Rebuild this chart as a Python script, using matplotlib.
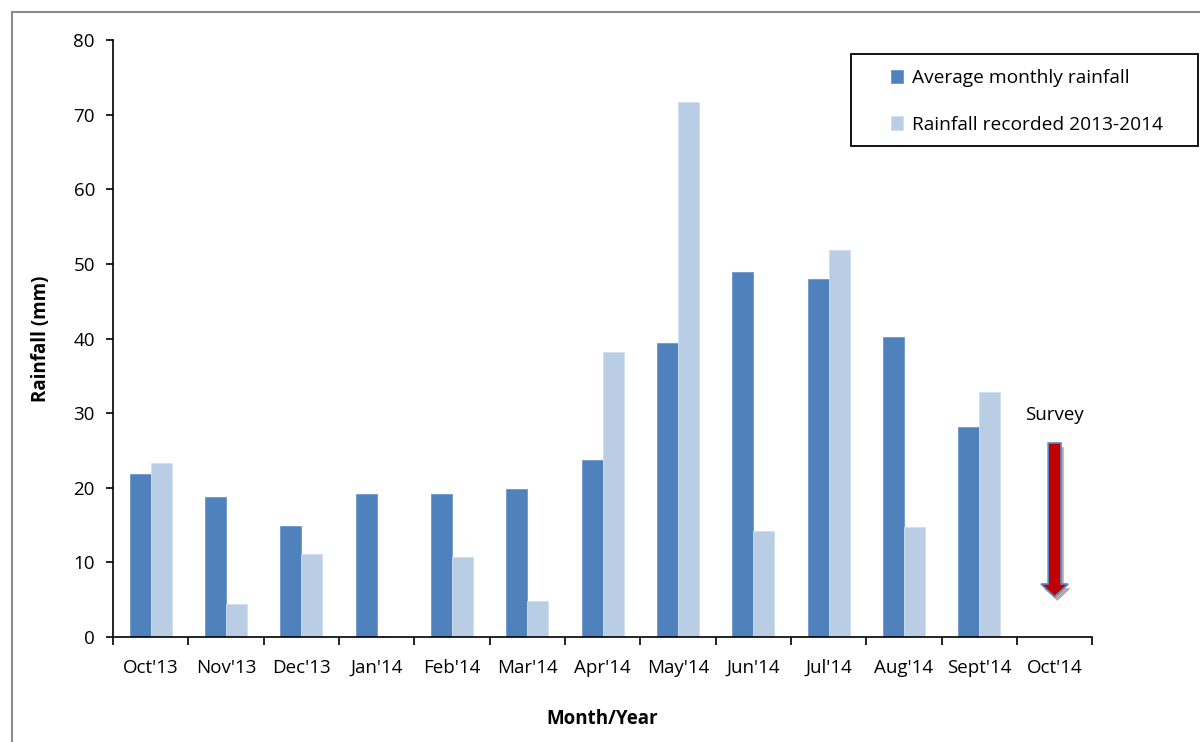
import matplotlib.pyplot as plt
import matplotlib.patches as mpatches
import matplotlib.patheffects as pe
import numpy as np

months = ["Oct'13", "Nov'13", "Dec'13", "Jan'14", "Feb'14", "Mar'14", "Apr'14",
          "May'14", "Jun'14", "Jul'14", "Aug'14", "Sept'14", "Oct'14"]
average = [21.8, 18.8, 14.9, 19.2, 19.2, 19.9, 23.7, 39.4, 48.9, 48.0, 40.2, 28.2, 0]
recorded = [23.3, 4.4, 11.1, 0.15, 10.7, 4.8, 38.2, 71.7, 14.2, 51.8, 14.7, 32.9, 0]

survey_idx = 12
survey_top = 26.0
survey_tip = 5.4

plt.rcParams['font.family'] = ['Open Sans', 'DejaVu Sans']

fig = plt.figure(figsize=(12, 7.42), dpi=100)
ax = fig.add_axes([0.0942, 0.1415, 0.816, 0.8045])

# chart area border (grey frame)
fig.patches.append(mpatches.Rectangle((12 / 1200, -0.2), 1.2, 1 - 12 / 742 + 0.2,
                                      transform=fig.transFigure, fill=False,
                                      edgecolor='#8c8c8c', linewidth=1.5))

x = np.arange(len(months))
w = 0.28
ax.bar(x - w / 2, average, w, color='#4F81BD', edgecolor='#6d97cc', linewidth=0.6,
       label='Average monthly rainfall')
ax.bar(x + w / 2, recorded, w, color='#B9CDE5', edgecolor='#d0def0', linewidth=0.6,
       label='Rainfall recorded 2013-2014')

ax.set_xlim(-0.5, len(months) - 0.5)
ax.set_ylim(0, 80)
ax.set_yticks(range(0, 81, 10))
ax.set_xticks(np.arange(-0.5, len(months), 1.0))
ax.set_xticklabels([])
ax.set_xticks(x, minor=True)
ax.set_xticklabels(months, minor=True)
ax.tick_params(axis='x', which='major', direction='out', length=6, width=1.2)
ax.tick_params(axis='x', which='minor', length=0, pad=16, labelsize=13.5)
ax.tick_params(axis='y', direction='out', length=5, width=1.2, pad=8, labelsize=13.5)
for s in ['top', 'right']:
    ax.spines[s].set_visible(False)
for s in ['left', 'bottom']:
    ax.spines[s].set_linewidth(1.2)

ax.set_ylabel('Rainfall (mm)', fontweight='bold', fontsize=13.5, labelpad=16)
ax.set_xlabel('Month/Year', fontweight='bold', fontsize=13.5, labelpad=23)

# survey arrow
arrow = mpatches.FancyArrow(survey_idx, survey_top, 0, survey_tip - survey_top,
                            width=0.17, head_width=0.36, head_length=1.7,
                            length_includes_head=True, facecolor='#C00000',
                            edgecolor='#5b86c0', linewidth=1.2)
arrow.set_path_effects([pe.SimplePatchShadow(offset=(2, -3), alpha=0.35), pe.Normal()])
ax.add_patch(arrow)
ax.text(survey_idx, survey_top + 3.7, 'Survey', ha='center', va='center', fontsize=13.5)

# legend frame drawn separately (wider padding on the left than on top)
fig.patches.append(mpatches.Rectangle((851 / 1200, 1 - 146 / 742), 347 / 1200, 92 / 742,
                                      transform=fig.transFigure, fill=False,
                                      edgecolor='black', linewidth=1.3))
leg = ax.legend(loc='upper left', bbox_to_anchor=(891 / 1200, 1 - 69 / 742),
                bbox_transform=fig.transFigure, fontsize=13.8, frameon=False,
                handlelength=0.6, handleheight=0.7, labelspacing=1.5, borderpad=0,
                handletextpad=0.5, borderaxespad=0)

fig.savefig('out.png', dpi=100)
